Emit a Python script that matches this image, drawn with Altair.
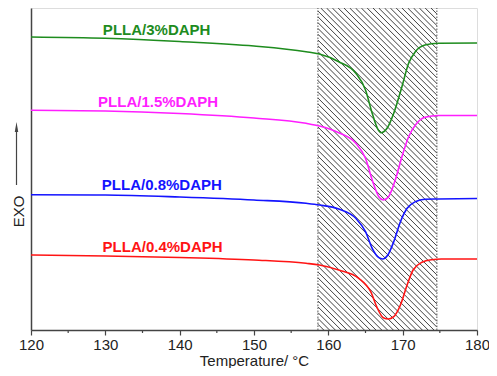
import altair as alt
import pandas as pd

# ---- data (temperature in °C, heat flow in arbitrary units) ----
series = ["PLLA/3%DAPH", "PLLA/1.5%DAPH", "PLLA/0.8%DAPH", "PLLA/0.4%DAPH"]
colors = ["#1E8C1E", "#FF1EFF", "#1414FF", "#FF1414"]

t_3 = [120, 130, 140, 150, 157, 158.8, 161.4, 163.7, 165.0, 165.9, 166.6, 167.1, 167.9, 168.8, 169.9, 170.8, 171.7, 173.0, 174.8, 180]
y_3 = [293, 291.7, 288.5, 284, 278.3, 276, 268.3, 256.7, 240, 216.7, 201.7, 197.3, 201.7, 216.7, 243.3, 266.7, 278.3, 285, 286.7, 287]

t_15 = [120, 130, 140, 150, 157, 158.8, 161.4, 163.7, 165.0, 165.9, 166.8, 167.4, 168.1, 169.0, 169.9, 170.8, 171.9, 173.0, 174.8, 180]
y_15 = [219.7, 219, 216.5, 212, 206.7, 204, 197.3, 186.7, 171.7, 150, 133.3, 130, 133.3, 150, 173.3, 193.3, 206.7, 212.7, 214.5, 214.5]

t_08 = [120, 130, 140, 150, 157, 158.8, 161.4, 163.7, 165.0, 165.9, 166.8, 167.3, 168.0, 168.8, 169.7, 170.6, 171.7, 173.0, 174.8, 180]
y_08 = [135.3, 135, 133, 130, 126.7, 125, 121, 111.7, 98.3, 81.7, 72.3, 71, 75, 88.3, 108.3, 121.7, 128.3, 130.7, 131, 131.5]

t_04 = [120, 130, 140, 150, 157, 158.8, 161.4, 164.1, 165.7, 166.6, 167.4, 168.1, 168.8, 169.7, 170.6, 171.4, 172.6, 173.9, 175.2, 180]
y_04 = [75, 74, 72.5, 70, 66.7, 65, 60, 51.7, 38.3, 21.7, 12.3, 11, 13.3, 25, 45, 60, 67.7, 70.3, 71, 71]

label_x = [136.9, 137.1, 137.6, 137.7]
label_y = [300, 228, 145, 83]

x_domain = [120, 180]
y_domain = [0, 322]
x_ticks = [120, 130, 140, 150, 160, 170, 180]
minor_ticks = [125, 135, 145, 155, 165, 175]
band = [158.6, 174.6]
arrow_x = 118.05
arrow_y = [145, 198]
arrow_tip = 203

W, H = 446, 322

# ---- tables ----
rows = []
for name, ts, ys in zip(series, [t_3, t_15, t_08, t_04], [y_3, y_15, y_08, y_04]):
    for i, (t, y) in enumerate(zip(ts, ys)):
        rows.append({"series": name, "T": t, "H": y, "order": i})
curves = pd.DataFrame(rows)
labels = pd.DataFrame({"series": series, "T": label_x, "H": label_y})

# hatch pattern segments inside the band (45 degrees in screen space)
px_per_x = W / (x_domain[1] - x_domain[0])
px_per_y = H / (y_domain[1] - y_domain[0])
X0 = (band[0] - x_domain[0]) * px_per_x
X1 = (band[1] - x_domain[0]) * px_per_x
Hh = H
step = 5.8
segs = []
s = X0 - Hh
while s < X1:
    t0 = max(0.0, X0 - s)
    t1 = min(Hh, X1 - s)
    if t1 > t0:
        segs.append({
            "x": x_domain[0] + (s + t0) / px_per_x,
            "x2": x_domain[0] + (s + t1) / px_per_x,
            "y": y_domain[1] - t0 / px_per_y,
            "y2": y_domain[1] - t1 / px_per_y,
        })
    s += step
hatch = pd.DataFrame(segs)

xs = alt.Scale(domain=x_domain, nice=False, zero=False)
ys = alt.Scale(domain=y_domain, nice=False, zero=False)
cs = alt.Scale(domain=series, range=colors)

x_axis = alt.Axis(values=x_ticks, format="d", tickSize=5, tickColor="#444", tickWidth=1.2,
                  domainColor="#444", domainWidth=1.5, labelFontSize=15, labelColor="#222",
                  labelFont="Liberation Sans", labelPadding=2, title="Temperature/ °C",
                  titleFont="Liberation Sans", titleFontSize=15, titleFontWeight="normal",
                  titleColor="#222", titlePadding=1, grid=False, labelFlush=False)
y_axis = alt.Axis(ticks=False, labels=False, grid=False, domainColor="#444", domainWidth=1.5,
                  title="EXO", titleFont="Liberation Sans", titleFontSize=15,
                  titleFontWeight="normal", titleColor="#222", titleAngle=-90,
                  titleAlign="center", titleBaseline="bottom", titleX=-5, titleY=203)

hatch_layer = alt.Chart(hatch).mark_rule(color="#2a2a2a", strokeWidth=0.9).encode(
    x=alt.X("x:Q", scale=xs, axis=x_axis), x2="x2:Q",
    y=alt.Y("y:Q", scale=ys, axis=y_axis), y2="y2:Q")

border = pd.DataFrame({"x": band, "y": [y_domain[0]] * 2, "y2": [y_domain[1]] * 2})
border_layer = alt.Chart(border).mark_rule(color="#555", strokeWidth=1, strokeDash=[1.5, 1.5]).encode(
    x="x:Q", y="y:Q", y2="y2:Q")

minor = pd.DataFrame({"x": minor_ticks, "y": [0] * len(minor_ticks), "y2": [-3] * len(minor_ticks)})
minor_layer = alt.Chart(minor).mark_rule(color="#444", strokeWidth=1.2).encode(
    x="x:Q", y="y:Q", y2="y2:Q")

lines = alt.Chart(curves).mark_line(strokeWidth=1.6, interpolate="monotone").encode(
    x="T:Q", y="H:Q", color=alt.Color("series:N", scale=cs, legend=None), order="order:Q",
    detail="series:N")

text = alt.Chart(labels).mark_text(fontSize=15, fontWeight="bold", font="Liberation Sans",
                                   align="center", baseline="middle").encode(
    x="T:Q", y="H:Q", text="series:N", color=alt.Color("series:N", scale=cs, legend=None))

arrow_df = pd.DataFrame({"x": [arrow_x], "y": [arrow_y[0]], "y2": [arrow_y[1]]})
arrow_line = alt.Chart(arrow_df).mark_rule(color="#444", strokeWidth=1.2).encode(
    x="x:Q", y="y:Q", y2="y2:Q")
tip_df = pd.DataFrame({"x": [arrow_x], "y": [arrow_tip]})
arrow_head = alt.Chart(tip_df).mark_point(shape="M0,-1L0.35,1L-0.35,1Z", size=100, filled=True,
                                          color="#444", opacity=1).encode(x="x:Q", y="y:Q")

chart = alt.layer(hatch_layer, border_layer, minor_layer, lines, text, arrow_line, arrow_head).properties(
    width=W, height=H, autosize="none",
    padding={"left": 23, "top": 0, "right": 12, "bottom": 38},
).configure_view(stroke="#444", strokeWidth=1.5).configure(background="white")

chart.save("out.html", embed_options={"renderer": "svg", "actions": False})
